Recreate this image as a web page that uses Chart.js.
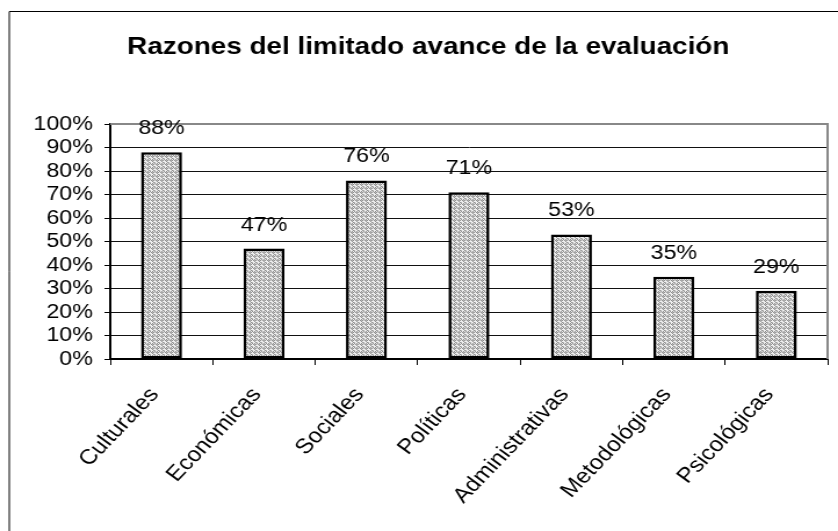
<!DOCTYPE html>
<html>
<head>
  <meta charset="utf-8">
  <title>Razones del limitado avance de la evaluación</title>
  <script src="https://cdn.jsdelivr.net/npm/chart.js@4.4.0/dist/chart.umd.min.js"></script>
  <style>
    html, body { margin: 0; padding: 0; background: #fff; overflow: hidden; }
    #wrap { width: 722px; height: 531px; transform: scaleX(1.1607); transform-origin: 0 0; }
  </style>
</head>
<body>
  <div id="wrap"><canvas id="myChart" width="722" height="531"></canvas></div>

  <script>
    const titulo = 'Razones del limitado avance de la evaluación';
    const categorias = ['Culturales', 'Económicas', 'Sociales', 'Políticas', 'Administrativas', 'Metodológicas', 'Psicológicas'];
    const valores = [88, 47, 76, 71, 53, 35, 29];
    const yTicks = [0, 10, 20, 30, 40, 50, 60, 70, 80, 90, 100];

    const font = '"Liberation Sans", Arial, sans-serif';

    // patron punteado gris de las barras
    function hacerPatron() {
      const c = document.createElement('canvas');
      c.width = 4; c.height = 4;
      const g = c.getContext('2d');
      g.fillStyle = '#efefef';
      g.fillRect(0, 0, 4, 4);
      g.fillStyle = '#8e8e8e';
      [[0,0],[2,0],[1,1],[3,1],[0,2],[2,2],[1,3],[3,3]].forEach(([x, y], i) => {
        if (i % 3 !== 2) g.fillRect(x, y, 1, 1);
      });
      g.fillStyle = '#b8b8b8';
      g.fillRect(3, 0, 1, 1);
      g.fillRect(1, 2, 1, 1);
      return g.createPattern(c, 'repeat');
    }

    const ctx = document.getElementById('myChart').getContext('2d');
    const patron = hacerPatron();

    const extras = {
      id: 'extras',
      beforeDatasetsDraw(chart) {
        const { ctx, chartArea: a } = chart;
        ctx.save();
        // borde del area de trazado (arriba y derecha, gris)
        ctx.strokeStyle = '#888';
        ctx.lineWidth = 2;
        ctx.beginPath();
        ctx.moveTo(a.left, a.top);
        ctx.lineTo(a.right, a.top);
        ctx.lineTo(a.right, a.bottom);
        ctx.stroke();
        ctx.restore();
      },
      afterDraw(chart) {
        const { ctx } = chart;
        ctx.save();
        // marco exterior (solo arriba e izquierda visibles)
        ctx.strokeStyle = '#000';
        ctx.lineWidth = 1;
        ctx.beginPath();
        ctx.moveTo(8, 531);
        ctx.lineTo(8, 11.5);
        ctx.lineTo(722, 11.5);
        ctx.stroke();

        // titulo
        ctx.fillStyle = '#000';
        ctx.font = 'bold 24px ' + font;
        ctx.textAlign = 'center';
        ctx.textBaseline = 'middle';
        ctx.fillText(titulo, 369, 47);

        // etiquetas de datos
        ctx.font = '20px ' + font;
        ctx.textBaseline = 'alphabetic';
        const meta = chart.getDatasetMeta(0);
        meta.data.forEach((bar, i) => {
          ctx.fillText(valores[i] + '%', bar.x, bar.y - 18);
        });
        ctx.restore();
      }
    };

    new Chart(ctx, {
      type: 'bar',
      data: {
        labels: categorias,
        datasets: [{
          data: valores,
          backgroundColor: patron,
          borderColor: '#000',
          borderWidth: 2.6,
          borderSkipped: false,
          categoryPercentage: 1,
          barPercentage: 0.4
        }]
      },
      options: {
        responsive: false,
        animation: false,
        devicePixelRatio: 1,
        layout: { padding: { top: 124, right: 9, left: 0, bottom: 0 } },
        plugins: {
          legend: { display: false },
          title: { display: false },
          tooltip: { enabled: false }
        },
        scales: {
          y: {
            min: 0,
            max: 100,
            afterFit(scale) { scale.width = 95; },
            afterBuildTicks(scale) { scale.ticks = yTicks.map(v => ({ value: v })); },
            ticks: {
              color: '#000',
              padding: 10,
              autoSkip: false,
              font: { family: font, size: 20 },
              callback: v => v + '%'
            },
            grid: {
              color: ctx => ctx.tick && ctx.tick.value === 100 ? 'rgba(0,0,0,0)' : '#111',
              tickColor: '#000',
              lineWidth: 1,
              tickLength: 5
            },
            border: { display: true, color: '#000', width: 2 }
          },
          x: {
            offset: true,
            afterFit(scale) { scale.height = 531 - 359; },
            ticks: {
              color: '#000',
              maxRotation: 50,
              minRotation: 50,
              autoSkip: false,
              padding: 18,
              labelOffset: -6,
              font: { family: font, size: 21 }
            },
            grid: {
              offset: true,
              drawOnChartArea: false,
              drawTicks: true,
              tickLength: 6,
              tickColor: '#000',
              lineWidth: 1
            },
            border: { display: true, color: '#000', width: 2 }
          }
        }
      },
      plugins: [extras]
    });
  </script>
</body>
</html>
